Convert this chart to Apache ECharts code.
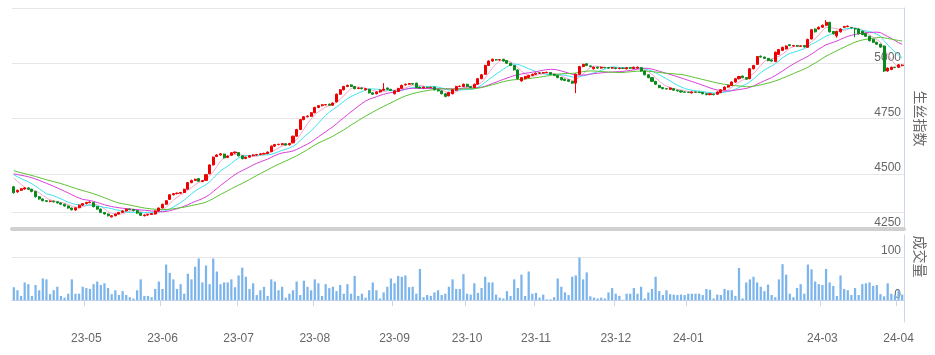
<!DOCTYPE html>
<html><head><meta charset="utf-8">
<script src="https://cdn.jsdelivr.net/npm/echarts/dist/echarts.min.js"></script>
<style>html,body{margin:0;padding:0;background:#fff}#c{width:935px;height:355px}</style>
</head><body><div id="c"></div>
<script>
// trading days per month (categories)
const tradingDays = {
  '2023-04': [3,4,5,6,7,10,11,12,13,14,17,18,19,20,21,24,25,26,27,28],
  '2023-05': [3,4,5,8,9,10,11,12,15,16,17,18,19,22,23,24,25,26,29,30,31],
  '2023-06': [1,2,5,6,7,8,9,12,13,14,15,16,19,20,21,23,26,27,28,29,30],
  '2023-07': [3,4,5,6,7,10,11,12,13,14,17,18,19,20,21,24,25,26,27,28,31],
  '2023-08': [1,2,3,4,7,8,9,10,11,14,15,16,17,18,21,22,23,24,25,28,29,30],
  '2023-09': [1,4,5,6,7,8,11,12,13,14,15,18,19,20,21,22,25,26,27,28],
  '2023-10': [7,8,9,10,11,12,13,16,17,18,19,20,23,24,25,26,27,30,31],
  '2023-11': [1,2,3,6,7,8,9,10,13,14,15,16,17,20,21,22,23,24,27,28,29,30],
  '2023-12': [1,4,5,6,7,8,11,12,13,14,15,18,19,20,21,22,25,26,27,28],
  '2024-01': [2,3,4,5,8,9,10,11,12,15,16,17,18,19,22,23,24,25,26,29,30,31],
  '2024-02': [1,2,5,6,7,8,19,20,21,22,23,26,27,28,29],
  '2024-03': [1,4,5,6,7,8,11,12,13,14,15,18,19,20,21,22,25,26,27,28,29],
  '2024-04': [1,2]
};
// dates that carry an axis tick + label
const tickDates = ['2023-05-03','2023-06-01','2023-07-03','2023-08-01','2023-09-01','2023-10-07',
  '2023-11-01','2023-12-01','2024-01-02','2024-03-01','2024-04-01'];

// [open, close, low, high]
const ohlc = [
[4441,4414,4410,4445],[4418,4425,4414,4428],[4425,4432,4422,4435],[4431,4436,4428,4440],[4436,4430,4427,4439],
[4430,4420,4416,4432],[4420,4396,4392,4422],[4396,4386,4382,4399],[4386,4378,4375,4388],[4378,4375,4372,4380],
[4375,4376,4371,4379],[4376,4373,4370,4378],[4373,4368,4365,4375],[4368,4362,4359,4370],[4362,4354,4351,4364],
[4354,4345,4342,4356],[4345,4337,4334,4347],[4336,4346,4333,4348],[4346,4358,4344,4360],[4358,4365,4355,4367],
[4365,4370,4362,4373],[4370,4372,4367,4375],[4370,4351,4348,4372],[4351,4340,4337,4353],[4340,4325,4322,4342],
[4325,4318,4315,4327],[4318,4310,4307,4320],[4305,4310,4302,4312],[4310,4318,4308,4320],[4318,4325,4316,4327],
[4325,4332,4323,4334],[4332,4340,4330,4342],[4340,4338,4335,4343],[4338,4333,4330,4340],[4333,4322,4319,4335],
[4322,4312,4309,4324],[4310,4313,4307,4316],[4313,4316,4310,4318],[4316,4320,4314,4322],[4318,4332,4316,4334],
[4332,4345,4330,4347],[4345,4362,4343,4364],[4362,4378,4360,4380],[4384,4405,4382,4407],[4405,4410,4402,4413],
[4410,4412,4407,4415],[4412,4415,4409,4418],[4415,4430,4413,4432],[4430,4460,4428,4462],[4460,4470,4457,4473],
[4470,4475,4467,4478],[4478,4466,4463,4480],[4465,4469,4462,4472],[4470,4496,4468,4498],[4500,4540,4498,4542],
[4540,4575,4538,4578],[4578,4585,4575,4588],[4585,4590,4582,4593],[4589,4572,4569,4591],[4574,4580,4571,4583],
[4584,4595,4582,4598],[4594,4598,4591,4601],[4596,4581,4578,4598],[4581,4568,4565,4583],[4569,4575,4566,4578],
[4575,4582,4572,4585],[4582,4585,4579,4588],[4585,4587,4582,4590],[4587,4590,4584,4593],[4590,4592,4587,4595],
[4592,4598,4589,4601],[4600,4625,4598,4628],[4625,4632,4622,4635],[4632,4633,4629,4636],[4632,4636,4629,4639],
[4636,4630,4627,4638],[4631,4637,4628,4640],[4640,4670,4638,4672],[4670,4700,4668,4703],[4700,4745,4698,4748],
[4745,4758,4742,4761],[4758,4761,4755,4764],[4760,4776,4758,4779],[4776,4800,4774,4803],[4800,4808,4797,4811],
[4808,4812,4805,4815],[4812,4813,4809,4816],[4815,4810,4807,4817],[4810,4820,4808,4823],[4825,4860,4823,4863],
[4860,4880,4858,4883],[4880,4895,4877,4898],[4895,4900,4892,4903],[4902,4895,4892,4905],[4895,4885,4882,4897],
[4886,4888,4883,4891],[4888,4885,4882,4890],[4880,4885,4877,4888],[4882,4866,4863,4884],[4866,4860,4857,4868],
[4862,4870,4859,4873],[4870,4878,4867,4881],[4878,4883,4875,4910],[4888,4882,4879,4890],[4882,4877,4874,4884],
[4862,4875,4859,4878],[4872,4886,4870,4889],[4886,4900,4884,4903],[4902,4905,4899,4908],[4905,4908,4902,4911],
[4908,4906,4903,4910],[4910,4890,4887,4912],[4892,4888,4885,4894],[4888,4892,4885,4895],[4891,4890,4887,4893],
[4890,4891,4887,4894],[4892,4880,4877,4894],[4880,4875,4872,4882],[4875,4862,4859,4877],[4862,4850,4846,4864],
[4853,4868,4850,4871],[4862,4880,4859,4883],[4878,4895,4876,4898],[4895,4896,4892,4899],[4895,4905,4892,4908],
[4905,4895,4892,4907],[4895,4890,4887,4897],[4890,4905,4888,4908],[4905,4930,4903,4933],[4930,4948,4928,4951],
[4950,4990,4948,4993],[4990,5010,4988,5013],[5010,5018,5007,5021],[5016,5015,5012,5019],[5015,5016,5012,5019],
[5018,5010,5007,5020],[5012,5000,4997,5014],[5000,4990,4987,5002],[4990,4970,4967,4992],[4970,4930,4927,4972],
[4920,4935,4917,4938],[4930,4940,4927,4943],[4935,4945,4932,4948],[4945,4950,4942,4953],[4950,4955,4947,4958],
[4955,4956,4952,4959],[4956,4958,4953,4961],[4958,4959,4955,4962],[4958,4950,4947,4960],[4950,4945,4942,4952],
[4945,4935,4932,4947],[4935,4925,4922,4937],[4928,4922,4919,4930],[4925,4918,4915,4927],[4918,4910,4907,4920],
[4910,4950,4865,4953],[4950,4985,4948,4988],[4985,4995,4982,4998],[4998,4990,4987,5000],[4988,4985,4982,4990],
[4975,4982,4972,4985],[4982,4978,4975,4984],[4978,4982,4975,4985],[4981,4980,4977,4983],[4980,4978,4975,4982],
[4978,4980,4975,4983],[4979,4976,4973,4981],[4976,4978,4973,4980],[4978,4977,4974,4980],[4975,4980,4972,4983],
[4980,4978,4975,4982],[4976,4982,4973,4985],[4978,4982,4975,4985],[4980,4965,4962,4982],[4965,4948,4945,4967],
[4948,4935,4932,4950],[4935,4918,4915,4937],[4918,4905,4902,4920],[4900,4890,4887,4902],[4890,4885,4882,4892],
[4885,4884,4881,4887],[4882,4888,4879,4891],[4885,4878,4875,4887],[4878,4875,4872,4880],[4875,4870,4867,4877],
[4870,4869,4866,4872],[4869,4868,4865,4871],[4866,4870,4863,4873],[4870,4869,4866,4872],[4869,4868,4865,4871],
[4868,4862,4859,4870],[4862,4858,4855,4864],[4858,4862,4855,4865],[4860,4858,4855,4862],[4860,4870,4857,4873],
[4868,4880,4865,4883],[4880,4892,4877,4895],[4892,4900,4889,4903],[4900,4915,4897,4918],[4915,4930,4912,4933],
[4930,4940,4927,4943],[4942,4935,4932,4944],[4935,4928,4925,4937],[4930,4975,4928,4978],[4975,4990,4972,4993],
[4995,5030,4993,5033],[5032,5028,5025,5035],[5028,5022,5019,5030],[5022,5012,5009,5024],[5015,5010,5007,5017],
[5008,5050,5005,5053],[5040,5062,5037,5065],[5058,5072,5055,5075],[5065,5078,5062,5081],[5084,5080,5077,5087],
[5078,5080,5075,5083],[5080,5077,5074,5082],[5077,5078,5074,5081],[5080,5074,5071,5082],[5072,5108,5070,5111],
[5110,5152,5108,5155],[5155,5142,5139,5157],[5155,5163,5152,5166],[5163,5172,5160,5175],[5172,5185,5168,5195],
[5185,5142,5139,5188],[5144,5133,5130,5146],[5124,5144,5116,5147],[5142,5155,5139,5158],[5163,5166,5160,5169],
[5166,5168,5163,5171],[5162,5160,5157,5164],[5156,5155,5118,5159],[5155,5133,5130,5157],[5145,5130,5127,5147],
[5135,5122,5119,5137],[5122,5102,5099,5124],[5108,5095,5092,5110],[5095,5086,5083,5097],[5086,5073,5070,5088],
[5078,4965,4960,5080],[4965,4978,4962,4981],[4972,4982,4969,4985],[4982,4981,4978,4984],[4982,4993,4979,4996],
[4990,4992,4987,4995]
];

const volumes = [
30,23,10,41,37,10,35,23,50,48, 14,23,31,10,6,15,48,15,15,31, 28,26,37,43,35,39,28,14,23,12,
21,12,7,4,23,48,10,10,7,26, 43,26,82,63,48,26,37,15,61,48, 77,96,41,80,37,96,66,37,41,41,
48,30,57,75,54,26,39,12,23,31, 10,48,43,23,31,6,15,23,43,12, 45,31,23,48,39,10,37,28,31,21,
35,15,37,15,56,10,15,6,23,41, 23,4,18,31,50,39,56,54,57,30, 31,15,72,7,12,10,18,23,12,15,
31,48,26,26,60,15,
13,39,17,28,54,41,41,13,6,4, 21,10,48,28,59,10,66,15,17,6, 13,2,2,7,50,31,18,12,54,57,
98,48,64,9,6,4,6,4,18,28, 15,10,1,15,15,28,15,31,4,18, 26,54,21,12,23,14,13,12,13,12,
15,15,15,15,12,26,24,4,13,12, 26,23,23,10,74,4,41,48,54,41, 31,21,36,12,7,48,83,59,15,7,
28,37,15,82,71,43,37,35,72,41, 33,10,57,26,23,12,28,12,37,39, 41,33,35,14,9,39,15,12,23,13
];

// closes before the first visible day (estimated from where the MA lines start)
const priorCloses = [4575,4568,4560,4552,4545,4538,4532,4525,4515,4510,
  4500,4495,4498,4505,4510,4512,4508,4505,4507,4510,
  4512,4515,4510,4505,4503,4505,4500,4496,4490];

const maPeriods = [5, 10, 20, 30];
const maColors = ['#f4a6cf', '#3fe3ef', '#d93fdc', '#5cc232'];

const dates = [];
Object.keys(tradingDays).forEach(m => tradingDays[m].forEach(d => dates.push(m + '-' + String(d).padStart(2, '0'))));

function movingAverage(n) {
  const all = priorCloses.concat(ohlc.map(r => r[1]));
  const off = priorCloses.length;
  return ohlc.map((_, i) => {
    let s = 0;
    for (let k = 0; k < n; k++) s += all[off + i - k];
    return +(s / n).toFixed(2);
  });
}

const isTick = (idx, val) => tickDates.indexOf(val) >= 0;
const FONT = 'Liberation Sans, Arial, sans-serif';
const CJK = 'Noto Sans CJK SC, sans-serif';

const chart = echarts.init(document.getElementById('c'), null, {renderer: 'canvas'});
chart.setOption({
  animation: false,
  backgroundColor: '#ffffff',
  textStyle: {fontFamily: FONT},
  grid: [
    {left: 12, right: 30, top: 8, height: 221},
    {left: 12, right: 30, top: 235, height: 87}
  ],
  xAxis: [
    {type: 'category', gridIndex: 0, data: dates, boundaryGap: true,
     axisLine: {show: true, lineStyle: {color: '#d0d0d0', width: 4}},
     axisTick: {show: false}, axisLabel: {show: false}, splitLine: {show: false}},
    {type: 'category', gridIndex: 0, data: dates, boundaryGap: true, position: 'bottom', offset: -17,
     axisLine: {show: true, lineStyle: {color: '#e6e6e6', width: 1}},
     axisTick: {show: false}, axisLabel: {show: false}, splitLine: {show: false}},
    {type: 'category', gridIndex: 1, data: dates, boundaryGap: true,
     axisLine: {show: true, lineStyle: {color: '#ccd6eb', width: 1}},
     axisTick: {show: true, interval: isTick, alignWithLabel: false, length: 6, lineStyle: {color: '#ccd6eb'}},
     axisLabel: {show: true, interval: isTick, color: '#666666', fontSize: 12, margin: 11, fontFamily: FONT,
       formatter: v => v.slice(2, 7)},
     splitLine: {show: false}}
  ],
  yAxis: [
    {type: 'value', gridIndex: 0, position: 'right', min: 4250, max: 5250, interval: 250, scale: true,
     axisLine: {show: true, lineStyle: {color: '#ccd6eb'}},
     axisTick: {show: false},
     axisLabel: {inside: true, margin: 3, color: '#666666', fontSize: 12, verticalAlign: 'bottom',
       showMaxLabel: false, fontFamily: FONT, formatter: v => String(v)},
     splitLine: {show: true, lineStyle: {color: '#e6e6e6'}},
     name: '生丝指数', nameLocation: 'middle', nameRotate: -90, nameGap: 9,
     nameTextStyle: {color: '#666666', fontSize: 14, fontFamily: CJK}},
    {type: 'value', gridIndex: 1, position: 'right', min: -50, max: 150, interval: 50,
     axisLine: {show: true, lineStyle: {color: '#ccd6eb'}},
     axisTick: {show: false},
     axisLabel: {inside: true, margin: 3, color: '#666666', fontSize: 12, verticalAlign: 'bottom', fontFamily: FONT,
       formatter: v => (v === 0 || v === 100) ? String(v) : ''},
     splitLine: {show: true, lineStyle: {color: ['rgba(0,0,0,0)', '#e6e6e6']}},
     name: '成交量', nameLocation: 'middle', nameRotate: -90, nameGap: 9,
     nameTextStyle: {color: '#666666', fontSize: 14, fontFamily: CJK, padding: [0, 44, 0, 0]}}
  ],
  series: [
    ...maPeriods.map((n, k) => ({
      name: 'MA' + n, type: 'line', xAxisIndex: 0, yAxisIndex: 0, data: movingAverage(n),
      showSymbol: false, symbol: 'none', smooth: false,
      lineStyle: {width: 1, color: maColors[k]}, itemStyle: {color: maColors[k]}, z: 2
    })),
    {name: 'K', type: 'candlestick', xAxisIndex: 0, yAxisIndex: 0, data: ohlc, barWidth: '70%',
     itemStyle: {color: '#ee0000', color0: '#0b8a1c', borderColor: '#ee0000', borderColor0: '#0b8a1c', borderWidth: 1}, z: 3},
    {name: '成交量', type: 'bar', xAxisIndex: 2, yAxisIndex: 1, data: volumes, barWidth: '62%',
     itemStyle: {color: '#7cb5ec'}}
  ]
});
</script>
</body></html>
